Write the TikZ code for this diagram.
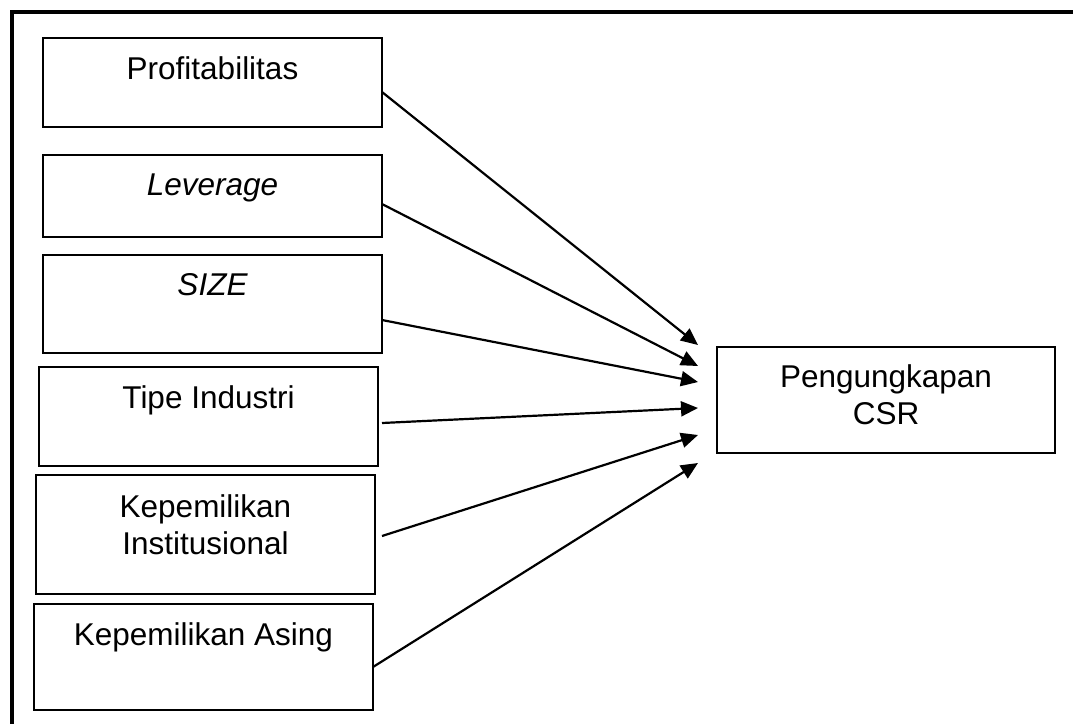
\documentclass[tikz,border=0pt]{standalone}
\usepackage{fontspec}
\setmainfont{Liberation Sans}
\usetikzlibrary{arrows.meta,calc}
\begin{document}
\begin{tikzpicture}[x=1pt,y=-1pt,
  box/.style={draw, line width=1.6pt, minimum width=339pt, inner sep=0pt, outer sep=0pt},
  lbl/.style={anchor=base, inner sep=0pt, font=\fontsize{31.5}{37}\selectfont},
  link/.style={line width=2.2pt, -{Triangle[length=17pt,width=15pt]}},
  frame/.style={line width=4pt}]
\useasboundingbox (0,0) rectangle (1073,723);
\coordinate (fb) at (12,740);
\coordinate (fc) at (12,11.5);
\coordinate (fr) at (1090,11.5);
\draw[frame] (fb) -- (fc) -- (fr);

% left boxes
\node[box, minimum height=89pt] (prof) at (212.5,82.5) {};
\node[lbl] (profT) at ($(prof.north)+(0,41)$) {Profitabilitas};
\node[box, minimum height=82pt] (lev) at (212.5,196) {};
\node[lbl] (levT) at ($(lev.north)+(0,40)$) {\itshape Leverage};
\node[box, minimum height=98pt] (size) at (212.5,304) {};
\node[lbl] (sizeT) at ($(size.north)+(0,40)$) {\itshape SIZE};
\node[box, minimum height=99pt] (tipe) at (208.5,416.5) {};
\node[lbl] (tipeT) at ($(tipe.north)+(0,41)$) {Tipe Industri};
\node[box, minimum height=119pt] (inst) at (205.5,534.5) {};
\node[lbl] (instT) at ($(inst.north)+(0,42)$) {\setlength{\tabcolsep}{0pt}\begin{tabular}[t]{c}Kepemilikan\\Institusional\end{tabular}};
\node[box, minimum height=106pt] (asing) at (203.5,657) {};
\node[lbl] (asingT) at ($(asing.north)+(0,41)$) {Kepemilikan Asing};

% target
\node[box, minimum width=338pt, minimum height=106pt] (csr) at (886,400) {};
\node[lbl] (csrT) at ($(csr.north)+(0,40)$) {\setlength{\tabcolsep}{0pt}\begin{tabular}[t]{c}Pengungkapan\\CSR\end{tabular}};

% start points
\coordinate (s1) at ($(prof.north east)+(0,54)$);
\coordinate (s2) at ($(lev.north east)+(0,49)$);
\coordinate (s3) at ($(size.north east)+(0,65)$);
\coordinate (s4) at ($(tipe.north east)+(4,56)$);
\coordinate (s5) at ($(inst.north east)+(7,61)$);
\coordinate (s6) at ($(asing.north east)+(0,63)$);
% arrow tips
\coordinate (t1) at ($(csr.west)+(-19,-55)$);
\coordinate (t2) at ($(csr.west)+(-19,-34)$);
\coordinate (t3) at ($(csr.west)+(-19,-18)$);
\coordinate (t4) at ($(csr.west)+(-19,8)$);
\coordinate (t5) at ($(csr.west)+(-19,35)$);
\coordinate (t6) at ($(csr.west)+(-19,63)$);

\draw[link] (s1) -- (t1);
\draw[link] (s2) -- (t2);
\draw[link] (s3) -- (t3);
\draw[link] (s4) -- (t4);
\draw[link] (s5) -- (t5);
\draw[link] (s6) -- (t6);
\end{tikzpicture}
\end{document}
